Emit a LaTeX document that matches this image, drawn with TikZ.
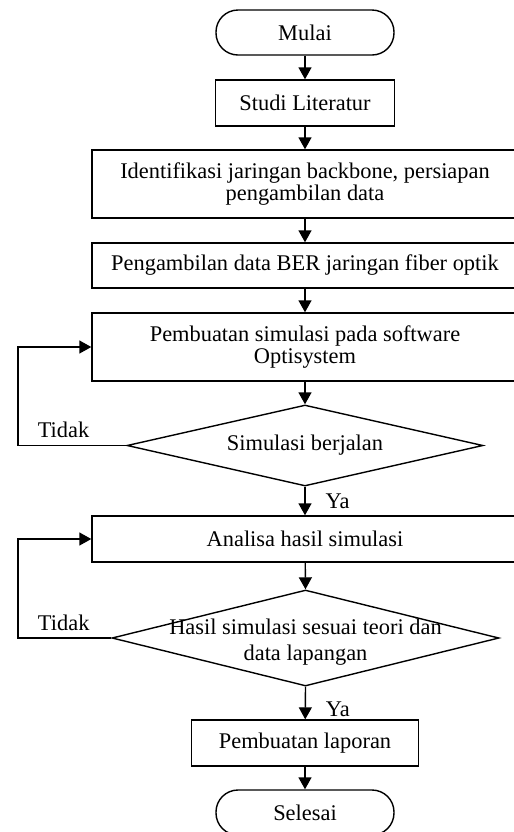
\documentclass[tikz,border=0pt]{standalone}
\usepackage{fontspec}
\setmainfont{Liberation Serif}
\usetikzlibrary{shapes.geometric,arrows.meta,positioning}

\tikzset{
  base/.style={draw, line width=0.7pt, font=\fontsize{11.2}{11}\selectfont, align=center, inner sep=2pt},
  terminal/.style={base, rounded corners=11pt, minimum width=89pt, minimum height=22.5pt},
  process/.style={base, minimum height=23pt},
  wide/.style={process, minimum width=213pt},
  decision/.style={draw, line width=0.7pt, diamond, inner sep=0pt},
  flow/.style={line width=0.7pt, -{Triangle[length=6pt,width=6.5pt]}},
  lbl/.style={font=\fontsize{11.2}{13}\selectfont, align=center, inner sep=1pt}
}

\begin{document}
\begin{tikzpicture}[x=0.5pt,y=-0.5pt]
\useasboundingbox (0,0) rectangle (514,832);
\clip (0,0) rectangle (514,832);
% langkah-langkah
\node[terminal] (mulai) at (305,32.5) {Mulai};
\node[process, minimum width=89.5pt] (studi) at (305,103) {Studi Literatur};
\node[wide, minimum height=34pt] (ident) at (305,184) {Identifikasi jaringan backbone, persiapan\\pengambilan data};
\node[wide, minimum height=22.5pt] (ambil) at (305,265.5) {Pengambilan data BER jaringan fiber optik};
\node[wide, minimum height=34pt] (buatsim) at (305,347) {Pembuatan simulasi pada software\\Optisystem};
\node[decision, minimum width=178pt, minimum height=40.5pt] (cek1) at (305,445.5) {};
\node[lbl] (cek1txt) at (cek1) {Simulasi berjalan};
\node[wide] (analisa) at (305,539) {Analisa hasil simulasi};
\node[decision, minimum width=193.5pt, minimum height=48pt] (cek2) at (305.5,638) {};
\node[lbl, yshift=-2pt] (cek2txt) at (cek2) {Hasil simulasi sesuai teori dan\\data lapangan};
\node[process, minimum width=113.5pt] (lapor) at (305,743) {Pembuatan laporan};
\node[terminal] (selesai) at (305,812.5) {Selesai};

% alur utama
\draw[flow] (mulai) -- (studi);
\draw[flow] (studi) -- (ident);
\draw[flow] (ident) -- (ambil);
\draw[flow] (ambil) -- (buatsim);
\draw[flow] (buatsim) -- (cek1.north);
\draw[flow] (cek1.south) -- node[lbl, right=9pt, pos=0.5] (ya1) {Ya} (analisa);
\draw[flow] (analisa) -- (cek2.north);
\draw[flow] (cek2.south) -- node[lbl, right=9pt, pos=0.7] (ya2) {Ya} (lapor);
\draw[flow] (lapor) -- (selesai);

% umpan balik
\coordinate (back1) at (18,445.5);
\coordinate (back2) at (18,638);
\draw[flow] (cek1.west) -- node[lbl, above=2.5pt, pos=0.58] (tidak1) {Tidak} (back1) |- (buatsim.west);
\draw[flow] (cek2.west) -- node[lbl, above=2.5pt, pos=0.51] (tidak2) {Tidak} (back2) |- (analisa.west);
\end{tikzpicture}
\end{document}
